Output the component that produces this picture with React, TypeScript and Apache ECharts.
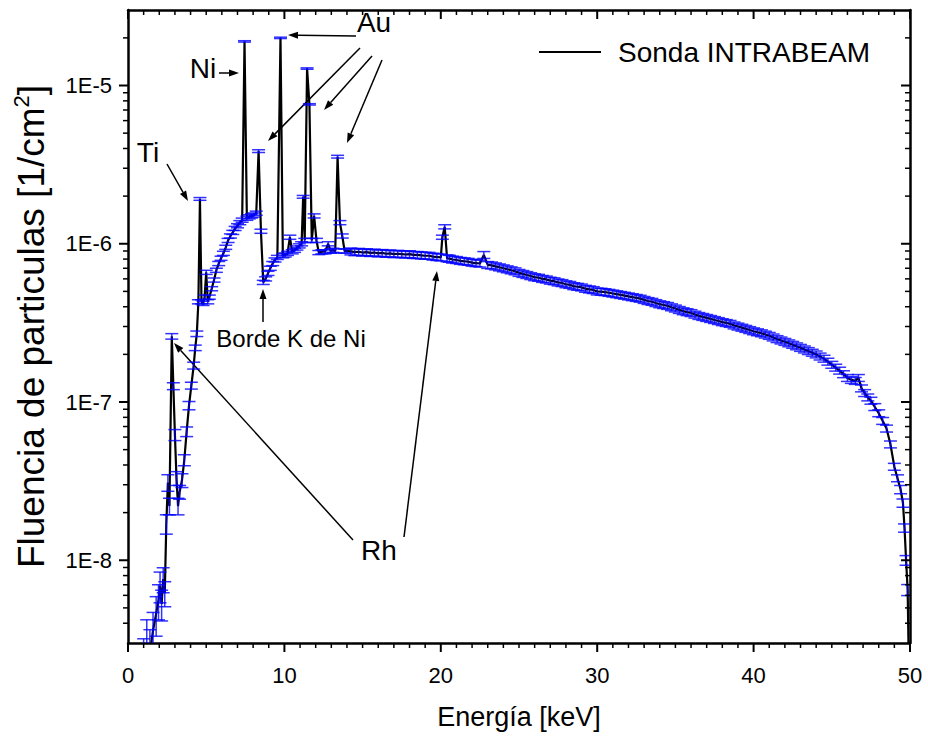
import React, { useEffect, useRef } from 'react';
import * as echarts from 'echarts';

const FONT = '"Liberation Sans", Arial, Helvetica, sans-serif';

// [energy (keV), fluence (1/cm^2), relative error (%)]
const lowEnergy: number[][] = [
  [1.0, 2.2e-9, 45], [1.2, 2.9e-9, 45], [1.4, 2.6e-9, 40], [1.6, 3.6e-9, 30],
  [1.8, 4.6e-9, 28], [1.95, 5.6e-9, 25], [2.05, 6.9e-9, 22], [2.15, 5.3e-9, 22],
  [2.25, 7.6e-9, 18], [2.35, 6.2e-9, 18], [2.45, 1.7e-8, 14], [2.55, 3.1e-8, 12],
  [2.65, 2.2e-8, 12], [2.8, 2.6e-7, 4], [2.9, 1.26e-7, 5], [3.0, 6.2e-8, 8],
  [3.1, 3.3e-8, 10], [3.2, 2.2e-8, 12], [3.3, 2.7e-8, 10], [3.45, 3.2e-8, 10],
  [3.6, 4.3e-8, 8], [3.75, 6.5e-8, 7], [3.9, 9.5e-8, 6], [4.05, 1.27e-7, 5],
  [4.2, 1.7e-7, 5], [4.3, 2.2e-7, 4], [4.4, 2.7e-7, 4], [4.5, 4.3e-7, 3],
];

const lineRegion: number[][] = [
  [4.6, 1.92e-6, 2], [4.7, 4.3e-7, 3], [4.8, 4.2e-7, 3], [4.9, 4.6e-7, 3],
  [5.0, 6.6e-7, 3], [5.1, 4.3e-7, 3], [5.2, 4.6e-7, 3], [5.35, 5.2e-7, 3],
  [5.5, 5.9e-7, 3], [5.65, 6.8e-7, 3], [5.8, 7.5e-7, 3], [5.95, 8.1e-7, 3],
  [6.1, 8.7e-7, 3], [6.25, 9.5e-7, 3], [6.4, 1.05e-6, 3], [6.55, 1.12e-6, 3],
  [6.7, 1.18e-6, 3], [6.85, 1.25e-6, 3], [7.0, 1.3e-6, 3], [7.15, 1.36e-6, 3],
  [7.3, 1.41e-6, 3], [7.45, 1.9e-5, 1], [7.6, 1.45e-6, 3], [7.75, 1.48e-6, 3],
  [7.9, 1.5e-6, 3], [8.05, 1.52e-6, 3], [8.2, 1.56e-6, 3], [8.35, 3.85e-6, 2],
  [8.5, 1.2e-6, 3], [8.65, 5.7e-7, 3], [8.8, 6.0e-7, 3], [8.95, 6.5e-7, 3],
  [9.1, 7.0e-7, 3], [9.25, 7.5e-7, 3], [9.4, 7.9e-7, 3], [9.55, 8.2e-7, 3],
  [9.75, 2.0e-5, 1], [9.9, 8.4e-7, 3], [10.05, 8.5e-7, 3], [10.2, 8.7e-7, 3],
  [10.35, 1.1e-6, 3], [10.5, 8.9e-7, 3], [10.65, 9.1e-7, 3], [10.8, 9.4e-7, 3],
  [10.95, 9.7e-7, 3], [11.1, 1.0e-6, 3], [11.2, 1.98e-6, 2], [11.3, 1.05e-6, 3],
  [11.45, 1.28e-5, 1], [11.6, 7.6e-6, 1], [11.75, 1.05e-6, 3], [11.9, 1.5e-6, 3],
  [12.05, 1.05e-6, 3], [12.2, 8.8e-7, 3], [12.4, 8.9e-7, 3], [12.6, 8.9e-7, 3],
  [12.8, 1.0e-6, 3], [12.95, 9.0e-7, 3], [13.1, 9.1e-7, 3], [13.25, 9.0e-7, 3],
  [13.4, 3.55e-6, 2], [13.55, 1.36e-6, 3], [13.7, 1.12e-6, 3], [13.85, 9.0e-7, 3],
  [14.0, 9.0e-7, 3],
];

const continuum: number[][] = [
  [14.25, 8.95e-7, 5], [14.5, 8.85e-7, 5], [14.75, 8.9e-7, 5], [15.0, 8.8e-7, 5],
  [15.25, 8.85e-7, 5], [15.5, 8.75e-7, 5], [15.75, 8.8e-7, 5], [16.0, 8.7e-7, 5],
  [16.25, 8.75e-7, 5], [16.5, 8.65e-7, 5], [16.75, 8.7e-7, 5], [17.0, 8.6e-7, 5],
  [17.25, 8.65e-7, 5], [17.5, 8.6e-7, 5], [17.75, 8.55e-7, 5], [18.0, 8.6e-7, 5],
  [18.25, 8.5e-7, 5], [18.5, 8.5e-7, 5], [18.75, 8.45e-7, 5], [19.0, 8.4e-7, 5],
  [19.25, 8.4e-7, 5], [19.5, 8.3e-7, 5], [19.75, 8.25e-7, 5], [20.0, 8.2e-7, 5],
  [20.1, 1.1e-6, 3], [20.25, 1.28e-6, 3], [20.4, 8.1e-7, 5], [20.55, 8.05e-7, 5],
  [20.75, 7.95e-7, 5], [21.0, 7.9e-7, 5], [21.25, 7.8e-7, 5], [21.5, 7.75e-7, 5],
  [21.75, 7.7e-7, 5], [22.0, 7.6e-7, 5], [22.25, 7.55e-7, 5], [22.5, 7.5e-7, 5],
  [22.75, 8.5e-7, 5], [23.0, 7.35e-7, 5], [23.25, 7.3e-7, 5], [23.5, 7.2e-7, 5],
  [23.75, 7.1e-7, 5], [24.0, 7.0e-7, 5], [24.25, 6.9e-7, 5], [24.5, 6.8e-7, 5],
  [24.75, 6.7e-7, 5], [25.0, 6.55e-7, 5], [25.25, 6.45e-7, 5], [25.5, 6.35e-7, 5],
  [25.75, 6.25e-7, 5], [26.0, 6.15e-7, 5], [26.25, 6.1e-7, 5], [26.5, 6.0e-7, 5],
  [26.75, 5.95e-7, 5], [27.0, 5.85e-7, 5], [27.25, 5.8e-7, 5], [27.5, 5.7e-7, 5],
  [27.75, 5.65e-7, 5], [28.0, 5.55e-7, 5], [28.25, 5.5e-7, 5], [28.5, 5.4e-7, 5],
  [28.75, 5.35e-7, 5], [29.0, 5.3e-7, 5], [29.25, 5.2e-7, 5], [29.5, 5.15e-7, 5],
  [29.75, 5.1e-7, 5], [30.0, 5.0e-7, 5], [30.25, 4.98e-7, 5], [30.5, 4.95e-7, 5],
  [30.75, 4.9e-7, 5], [31.0, 4.85e-7, 5], [31.25, 4.8e-7, 5], [31.5, 4.75e-7, 5],
  [31.75, 4.7e-7, 5], [32.0, 4.65e-7, 5], [32.25, 4.6e-7, 5], [32.5, 4.55e-7, 5],
  [32.75, 4.5e-7, 5], [33.0, 4.42e-7, 5], [33.25, 4.35e-7, 5], [33.5, 4.3e-7, 5],
  [33.75, 4.22e-7, 5], [34.0, 4.15e-7, 5], [34.25, 4.1e-7, 5], [34.5, 4.05e-7, 5],
  [34.75, 3.97e-7, 5], [35.0, 3.9e-7, 5], [35.25, 3.82e-7, 5], [35.5, 3.75e-7, 5],
  [35.75, 3.7e-7, 5], [36.0, 3.65e-7, 5], [36.25, 3.57e-7, 5], [36.5, 3.5e-7, 5],
  [36.75, 3.45e-7, 5], [37.0, 3.4e-7, 5], [37.25, 3.35e-7, 5], [37.5, 3.3e-7, 5],
  [37.75, 3.25e-7, 5], [38.0, 3.2e-7, 5], [38.25, 3.16e-7, 5], [38.5, 3.12e-7, 5],
  [38.75, 3.05e-7, 5], [39.0, 3.0e-7, 5], [39.25, 2.95e-7, 5], [39.5, 2.9e-7, 5],
  [39.75, 2.85e-7, 5], [40.0, 2.8e-7, 5], [40.25, 2.76e-7, 5], [40.5, 2.72e-7, 5],
  [40.75, 2.67e-7, 5], [41.0, 2.62e-7, 5], [41.25, 2.56e-7, 5], [41.5, 2.5e-7, 5],
  [41.75, 2.45e-7, 5], [42.0, 2.4e-7, 5], [42.25, 2.35e-7, 5], [42.5, 2.3e-7, 5],
  [42.75, 2.25e-7, 5], [43.0, 2.2e-7, 5], [43.25, 2.15e-7, 5], [43.5, 2.1e-7, 5],
  [43.75, 2.05e-7, 5], [44.0, 2.0e-7, 5], [44.25, 1.94e-7, 5], [44.5, 1.88e-7, 5],
  [44.75, 1.8e-7, 5], [45.0, 1.72e-7, 5], [45.25, 1.65e-7, 5], [45.5, 1.58e-7, 5],
  [45.75, 1.5e-7, 5], [46.0, 1.42e-7, 5], [46.25, 1.38e-7, 5], [46.5, 1.36e-7, 5],
  [46.7, 1.42e-7, 5], [46.9, 1.22e-7, 5], [47.1, 1.14e-7, 5], [47.3, 1.07e-7, 5],
  [47.5, 1.02e-7, 5], [47.75, 9.3e-8, 5], [48.0, 8.5e-8, 5], [48.25, 7.6e-8, 5],
  [48.5, 6.8e-8, 5], [48.75, 5.4e-8, 5], [49.0, 3.9e-8, 5], [49.2, 3.3e-8, 5],
  [49.4, 2.8e-8, 6], [49.55, 2.3e-8, 6], [49.65, 1.6e-8, 6], [49.75, 1.0e-8, 7],
  [49.85, 6.5e-9, 8], [49.95, 1.5e-9, 10],
];

const X_MIN = 0;
const X_MAX = 50;
const X_INTERVAL = 10;
const Y_MIN = 3e-9;
const Y_MAX = 3e-5;
const xMajorTicks = [0, 10, 20, 30, 40, 50];
const xMinorTicks: number[] = [];
for (let v = 1; v < 50; v++) if (v % 10 !== 0) xMinorTicks.push(v);
const yMajorTicks = [1e-8, 1e-7, 1e-6, 1e-5];
const yDecades = [1e-9, 1e-8, 1e-7, 1e-6, 1e-5];
const yMinorTicks: number[] = [];
yDecades.forEach((d) => {
  for (let k = 2; k <= 9; k++) {
    const v = parseFloat((k * d).toPrecision(3));
    if (v > Y_MIN && v < Y_MAX) yMinorTicks.push(v);
  }
});

const seriesName = 'Sonda INTRABEAM';

const labels = [
  { text: 'Ti', x: 148, y: 152, size: 28 },
  { text: 'Ni', x: 203, y: 68, size: 28 },
  { text: 'Au', x: 374, y: 22, size: 28 },
  { text: 'Borde K de Ni', x: 291, y: 338, size: 24 },
  { text: 'Rh', x: 379, y: 550, size: 28 },
];

const arrows: number[][][] = [
  [[167, 164], [188, 201]],
  [[219, 73], [239, 73]],
  [[356, 36], [288, 35]],
  [[360, 48], [268, 141]],
  [[372, 56], [324, 110]],
  [[382, 60], [347, 143]],
  [[263, 322], [263, 289]],
  [[353, 540], [174, 343]],
  [[404, 537], [437, 271]],
];

function arrowElements(from: number[], to: number[]) {
  const dx = to[0] - from[0];
  const dy = to[1] - from[1];
  const len = Math.hypot(dx, dy);
  const ux = dx / len;
  const uy = dy / len;
  const L = 10;
  const W = 3.5;
  const bx = to[0] - ux * L;
  const by = to[1] - uy * L;
  return [
    { type: 'line', shape: { x1: from[0], y1: from[1], x2: bx, y2: by }, style: { stroke: '#000', lineWidth: 1.5 } },
    {
      type: 'polygon',
      shape: { points: [[to[0], to[1]], [bx - uy * W, by + ux * W], [bx + uy * W, by - ux * W]] },
      style: { fill: '#000' },
    },
  ];
}

export default function App() {
  const ref = useRef<HTMLDivElement>(null);

  useEffect(() => {
    document.body.style.margin = '0';
    if (!ref.current) return;
    const chart = echarts.init(ref.current, undefined, { renderer: 'svg' });

    const all = [...lowEnergy, ...lineRegion, ...continuum];
    const lineData = all.map((p) => [p[0], p[1]]);
    const errData = all.map((p) => [p[0], p[1] * (1 - p[2] / 100), p[1] * (1 + p[2] / 100)]);

    // [x, y, kind (0 = x-axis tick, 1 = y-axis tick), length]
    const tickData = [
      ...xMajorTicks.map((v) => [v, Y_MIN, 0, 9]),
      ...xMinorTicks.map((v) => [v, Y_MIN, 0, 5]),
      ...yMajorTicks.map((v) => [X_MIN, v, 1, 9]),
      ...yMinorTicks.map((v) => [X_MIN, v, 1, 5]),
    ];

    const axisLineStyle = { color: '#000', width: 2.5 };
    const labelStyle = { color: '#000', fontSize: 22, fontFamily: FONT };

    const graphic: any[] = [];
    labels.forEach((l) => {
      graphic.push({
        type: 'text',
        x: l.x,
        y: l.y,
        style: { text: l.text, fill: '#000', font: `${l.size}px ${FONT}`, align: 'center', verticalAlign: 'middle' },
      });
    });
    arrows.forEach((a) => graphic.push(...arrowElements(a[0], a[1])));

    const plainAxis = {
      axisTick: { show: false },
      minorTick: { show: false },
      splitLine: { show: false },
    };

    chart.setOption({
      animation: false,
      backgroundColor: '#fff',
      grid: { left: 128, right: 18, top: 10, bottom: 97, containLabel: false, outerBoundsMode: 'none' },
      legend: {
        show: true,
        left: 534,
        top: 33,
        itemWidth: 62,
        itemHeight: 2,
        selectedMode: false,
        data: [{ name: seriesName, icon: 'rect' }],
        itemStyle: { color: '#000' },
        textStyle: { color: '#000', fontSize: 28, fontFamily: FONT, padding: [0, 0, 0, 12] },
      },
      xAxis: [
        {
          type: 'value',
          position: 'bottom',
          min: X_MIN,
          max: X_MAX,
          interval: X_INTERVAL,
          name: 'Energía [keV]',
          nameLocation: 'middle',
          nameGap: 60,
          nameTextStyle: { color: '#000', fontSize: 27, fontFamily: FONT },
          axisLine: { show: true, onZero: false, lineStyle: axisLineStyle },
          axisLabel: { ...labelStyle, margin: 21 },
          ...plainAxis,
        },
        {
          type: 'value',
          position: 'top',
          min: X_MIN,
          max: X_MAX,
          interval: X_INTERVAL,
          axisLine: { show: true, onZero: false, lineStyle: axisLineStyle },
          axisLabel: { show: false },
          ...plainAxis,
        },
      ],
      yAxis: [
        {
          type: 'log',
          logBase: 10,
          position: 'left',
          min: Y_MIN,
          max: Y_MAX,
          name: '{a|Fluencia de particulas [1/cm}{s|2}{a|]}',
          nameLocation: 'middle',
          nameGap: 76,
          nameTextStyle: {
            color: '#000',
            fontFamily: FONT,
            rich: {
              a: { fontSize: 37, fontFamily: FONT, color: '#000', lineHeight: 42 },
              s: { fontSize: 22, fontFamily: FONT, color: '#000', lineHeight: 42, verticalAlign: 'top' },
            },
          },
          axisLine: { show: true, onZero: false, lineStyle: axisLineStyle },
          axisLabel: {
            ...labelStyle,
            margin: 16,
            customValues: yMajorTicks,
            formatter: (v: number) => `1E${Math.round(Math.log10(v))}`,
          },
          ...plainAxis,
        },
        {
          type: 'log',
          logBase: 10,
          position: 'right',
          min: Y_MIN,
          max: Y_MAX,
          axisLine: { show: true, onZero: false, lineStyle: axisLineStyle },
          axisLabel: { show: false },
          ...plainAxis,
        },
      ],
      series: [
        {
          name: seriesName,
          type: 'line',
          xAxisIndex: 0,
          yAxisIndex: 0,
          data: lineData,
          symbol: 'none',
          showSymbol: false,
          clip: true,
          lineStyle: { color: '#000', width: 2.2 },
          itemStyle: { color: '#000' },
          z: 2,
        },
        {
          name: 'error',
          type: 'custom',
          xAxisIndex: 0,
          yAxisIndex: 0,
          data: errData,
          clip: true,
          silent: true,
          z: 3,
          encode: { x: 0, y: [1, 2] },
          renderItem: (params: any, api: any) => {
            const x = api.value(0);
            const lo = api.coord([x, api.value(1)]);
            const hi = api.coord([x, api.value(2)]);
            const w = 6.5;
            const style = { stroke: '#0000ff', lineWidth: 1.5, opacity: 0.8 };
            return {
              type: 'group',
              children: [
                { type: 'line', shape: { x1: lo[0], y1: lo[1], x2: hi[0], y2: hi[1] }, style },
                { type: 'line', shape: { x1: lo[0] - w, y1: lo[1], x2: lo[0] + w, y2: lo[1] }, style },
                { type: 'line', shape: { x1: hi[0] - w, y1: hi[1], x2: hi[0] + w, y2: hi[1] }, style },
              ],
            };
          },
        },
        {
          name: 'ticks',
          type: 'custom',
          xAxisIndex: 0,
          yAxisIndex: 0,
          data: tickData,
          clip: false,
          silent: true,
          z: 5,
          encode: { x: 0, y: 1 },
          renderItem: (params: any, api: any) => {
            const kind = api.value(2);
            const len = api.value(3);
            const lw = len > 6 ? 2 : 1.5;
            const style = { stroke: '#000', lineWidth: lw };
            if (kind === 0) {
              const v = api.value(0);
              const b = api.coord([v, Y_MIN]);
              const t = api.coord([v, Y_MAX]);
              return {
                type: 'group',
                children: [
                  { type: 'line', shape: { x1: b[0], y1: b[1], x2: b[0], y2: b[1] + len }, style },
                  { type: 'line', shape: { x1: t[0], y1: t[1], x2: t[0], y2: t[1] + len }, style },
                ],
              };
            }
            const v = api.value(1);
            const l = api.coord([X_MIN, v]);
            const r = api.coord([X_MAX, v]);
            return {
              type: 'group',
              children: [
                { type: 'line', shape: { x1: l[0] - len, y1: l[1], x2: l[0], y2: l[1] }, style },
                { type: 'line', shape: { x1: r[0] - len, y1: r[1], x2: r[0], y2: r[1] }, style },
              ],
            };
          },
        },
      ],
      graphic,
    });

    return () => chart.dispose();
  }, []);

  return <div ref={ref} style={{ width: 928, height: 740 }} />;
}
